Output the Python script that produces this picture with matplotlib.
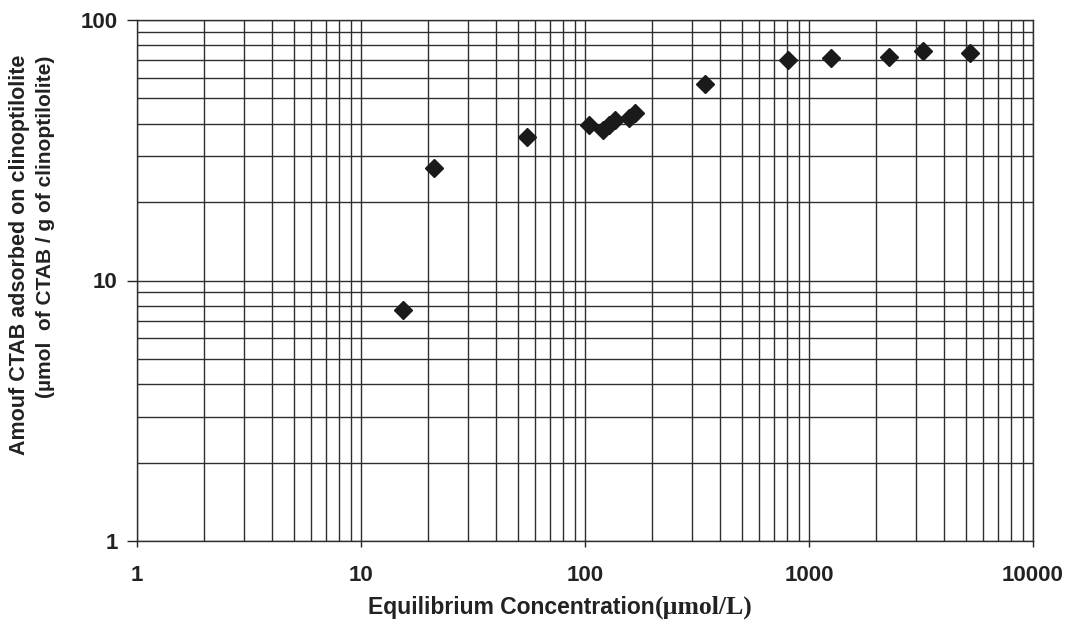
import matplotlib
matplotlib.use("Agg")
import matplotlib.pyplot as plt
from matplotlib.ticker import LogLocator, FixedLocator, NullFormatter

# Data
conc = [15.4, 21.2, 55.1, 104, 120, 128, 136, 157, 167, 343, 805, 1254, 2277, 3228, 5231]
amount = [7.7, 27.0, 35.6, 39.5, 37.8, 39.5, 41.3, 42.0, 44.0, 56.8, 70.2, 71.5, 72.1, 76.0, 74.7]

x_ticks = [1, 10, 100, 1000, 10000]
x_tick_labels = ["1", "10", "100", "1000", "10000"]
y_ticks = [1, 10, 100]
y_tick_labels = ["1", "10", "100"]

W, H = 1070, 627
fig = plt.figure(figsize=(W / 100, H / 100), dpi=100)
fig.patch.set_facecolor("white")
ax = fig.add_axes([137 / W, 1 - 541 / H, (1033 - 137) / W, (541 - 20) / H])

ax.set_xscale("log")
ax.set_yscale("log")
ax.set_xlim(1, 10000)
ax.set_ylim(1, 100)

ax.plot(conc, amount, linestyle="none", marker="D", markersize=9.5,
        color="#1a1a1a", zorder=5)

ax.xaxis.set_major_locator(FixedLocator(x_ticks))
ax.yaxis.set_major_locator(FixedLocator(y_ticks))
ax.set_xticklabels(x_tick_labels)
ax.set_yticklabels(y_tick_labels)
ax.xaxis.set_minor_locator(LogLocator(base=10, subs=range(2, 10)))
ax.yaxis.set_minor_locator(LogLocator(base=10, subs=range(2, 10)))
ax.xaxis.set_minor_formatter(NullFormatter())
ax.yaxis.set_minor_formatter(NullFormatter())

ax.grid(True, which="both", color="#2e2e2e", linewidth=1.0)
ax.set_axisbelow(True)

for s in ax.spines.values():
    s.set_color("#2e2e2e")
    s.set_linewidth(1.0)

ax.tick_params(axis="x", which="major", direction="out", length=4, width=1,
               pad=13, colors="#222222")
ax.tick_params(axis="y", which="major", direction="out", length=7, width=1,
               pad=7, colors="#222222")
ax.tick_params(which="minor", length=0)
for lab in ax.get_xticklabels() + ax.get_yticklabels():
    lab.set_fontfamily("Liberation Sans")
    lab.set_fontweight("bold")
    lab.set_fontsize(16)

# Y axis label (two lines)
fig.text(20 / W, 1 - 255 / H, "Amouf CTAB adsorbed on clinoptilolite",
         rotation=90, ha="center", va="center", fontsize=15.5,
         family="Liberation Sans", weight="bold", color="#222222")
fig.text(46 / W, 1 - 227 / H, "(µmol  of CTAB / g of clinoptilolite)",
         rotation=90, ha="center", va="center", fontsize=15,
         family="Liberation Sans", weight="bold", color="#222222")

# X axis label: sans part + serif part
fig.text(655 / W, 1 - 614 / H, "Equilibrium Concentration", ha="right",
         va="baseline", fontsize=16.5, family="Liberation Sans", weight="bold",
         color="#222222")
fig.text(655 / W, 1 - 614 / H, "(µmol/L)", ha="left", va="baseline",
         fontsize=18.5, family="Liberation Serif", weight="bold",
         color="#222222")

fig.savefig("out.png", dpi=100, facecolor="white")
